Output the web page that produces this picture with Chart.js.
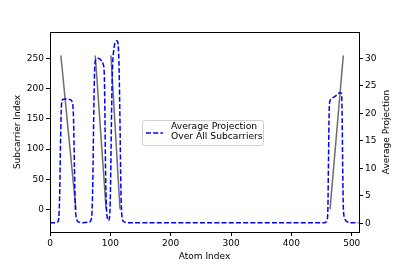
<!DOCTYPE html>
<html>
<head>
<meta charset="utf-8">
<script src="https://cdn.jsdelivr.net/npm/chart.js@4/dist/chart.umd.min.js"></script>
<style>
  body { margin: 0; background: #fff; }
  canvas { display: block; }
</style>
</head>
<body>
<canvas id="atomChart" width="399" height="266"></canvas>
<script>
// average projection over all subcarriers (right axis)
const projAtoms  = [0, 10, 14, 16, 17.5, 19, 21, 25, 33, 37, 39, 40.5, 42, 44, 48, 55,
                    65, 69, 71, 72.5, 74, 76, 80, 85, 88, 90, 91, 92, 93.5, 95, 97,
                    99, 100.5, 102, 103.5, 106, 109, 111, 113, 114.5, 116, 117.5, 119, 122, 128,
                    300, 455, 459, 460.5, 461.5, 462.5, 464, 468, 475, 481, 483, 484, 485, 486, 488, 492, 500, 511];
const projValues = [0.1, 0.1, 0.5, 5, 15, 21.5, 22.5, 22.6, 22.5, 22, 19, 10, 3, 0.8, 0.2, 0.1,
                    0.2, 1, 8, 20, 28, 29.8, 30, 29.6, 29, 27, 20, 10, 3, 1, 0.5,
                    1.5, 8, 20, 28, 31.8, 33.1, 33.2, 32.5, 28, 18, 6, 1.5, 0.3, 0.1,
                    0.1, 0.1, 0.5, 3, 12, 20, 22.3, 22.8, 23.3, 23.8, 23.6, 20, 10, 3, 1, 0.3, 0.1, 0.1];

// subcarrier index per atom (left axis), null breaks the segments
const subAtoms  = [18, 43, 60, 75, 93, 97, 101, 116, 300, 464, 486];
const subValues = [255, 0, null, 255, 0, null, 255, 0, null, 0, 255];

const xTicks = [0, 100, 200, 300, 400, 500];
const leftTicks = [0, 50, 100, 150, 200, 250];
const rightTicks = [0, 5, 10, 15, 20, 25, 30];

const FONT = "'DejaVu Sans', sans-serif";

const frameAndLegend = {
    id: 'frameAndLegend',
    afterDatasetsDraw(chart) {
        const { ctx, chartArea: { left, top, right, bottom } } = chart;
        ctx.save();
        ctx.strokeStyle = '#000';
        ctx.lineWidth = 1;
        ctx.strokeRect(Math.round(left) + 0.5, Math.round(top) + 0.5,
            Math.round(right - left), Math.round(bottom - top));

        // legend box
        const bx = 142.5, by = 120.5, bw = 121, bh = 25;
        ctx.fillStyle = 'rgba(255,255,255,0.8)';
        ctx.strokeStyle = '#d0d0d0';
        ctx.beginPath();
        ctx.roundRect(bx, by, bw, bh, 2);
        ctx.fill();
        ctx.stroke();

        ctx.strokeStyle = '#0000ff';
        ctx.lineWidth = 1.5;
        ctx.setLineDash([5, 2.2]);
        ctx.beginPath();
        ctx.moveTo(146, 133);
        ctx.lineTo(163, 133);
        ctx.stroke();
        ctx.setLineDash([]);

        ctx.fillStyle = '#000';
        ctx.font = '9.2px ' + FONT;
        ctx.textBaseline = 'middle';
        ctx.fillText('Average Projection', 171, 127);
        ctx.fillText('Over All Subcarriers', 171, 137);

        // right axis title, reading bottom to top like matplotlib
        ctx.translate(386.5, (top + bottom) / 2);
        ctx.rotate(-Math.PI / 2);
        ctx.textAlign = 'center';
        ctx.font = '9px ' + FONT;
        ctx.fillText('Average Projection', 0, 0);
        ctx.restore();
    }
};

function fixTicks(values) {
    return function (scale) {
        scale.ticks = values.map(v => ({ value: v }));
    };
}

const tickStyle = { color: '#000', font: { family: FONT, size: 9 }, padding: 2 };
const gridStyle = { display: true, drawOnChartArea: false, drawTicks: true, tickLength: 4, tickColor: '#000' };
const titleStyle = { display: true, color: '#000', font: { family: FONT, size: 9 } };

new Chart(document.getElementById('atomChart'), {
    type: 'line',
    data: {
        datasets: [
            {
                label: 'Average Projection Over All Subcarriers',
                data: projAtoms.map((a, i) => ({ x: a, y: projValues[i] })),
                yAxisID: 'yRight',
                borderColor: '#0000ff',
                borderWidth: 1.5,
                borderDash: [5, 2.2],
                pointRadius: 0,
                cubicInterpolationMode: 'monotone',
                fill: false
            },
            {
                label: 'Subcarrier Index',
                data: subAtoms.map((a, i) => ({ x: a, y: subValues[i] })),
                yAxisID: 'yLeft',
                borderColor: 'rgba(60,60,60,0.75)',
                borderWidth: 1.5,
                pointRadius: 0,
                tension: 0,
                spanGaps: false,
                fill: false
            }
        ]
    },
    options: {
        responsive: false,
        animation: false,
        devicePixelRatio: 1,
        layout: { padding: { top: 32, left: 0, right: 0, bottom: 0 } },
        plugins: {
            legend: { display: false },
            tooltip: { enabled: false }
        },
        scales: {
            x: {
                type: 'linear',
                min: 0,
                max: 512,
                afterBuildTicks: fixTicks(xTicks),
                afterFit(scale) { scale.height = 34; },
                ticks: tickStyle,
                grid: gridStyle,
                border: { display: false },
                title: Object.assign({ text: 'Atom Index', padding: { top: 4, bottom: 4 } }, titleStyle)
            },
            yLeft: {
                type: 'linear',
                position: 'left',
                min: -37.6,
                max: 294,
                afterBuildTicks: fixTicks(leftTicks),
                afterFit(scale) { scale.width = 50; },
                ticks: tickStyle,
                grid: gridStyle,
                border: { display: false },
                title: Object.assign({ text: 'Subcarrier Index', padding: { top: 12, bottom: 4 } }, titleStyle)
            },
            yRight: {
                type: 'linear',
                position: 'right',
                min: -1.6,
                max: 34.8,
                afterBuildTicks: fixTicks(rightTicks),
                afterFit(scale) { scale.width = 40; },
                ticks: tickStyle,
                grid: gridStyle,
                border: { display: false },
                title: { display: false }
            }
        }
    },
    plugins: [frameAndLegend]
});
</script>
</body>
</html>
